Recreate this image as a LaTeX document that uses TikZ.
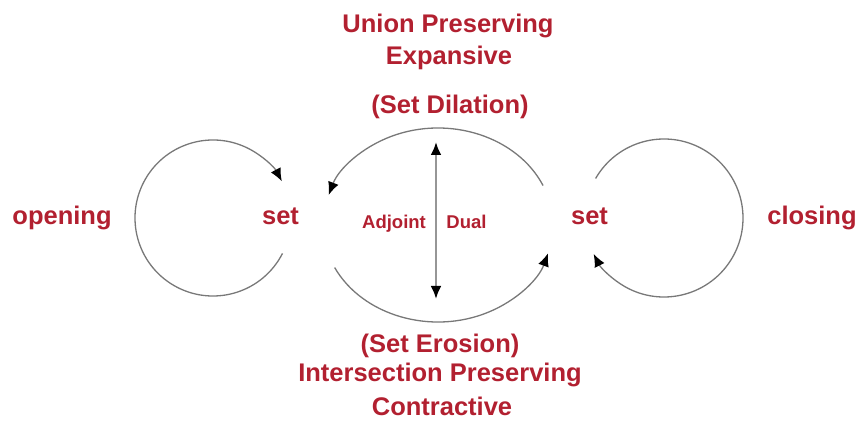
\documentclass[tikz,border=0pt]{standalone}
\usepackage{fontspec}
\setmainfont{Liberation Sans}
\usetikzlibrary{arrows.meta}
\definecolor{lblred}{RGB}{178,32,48}
\definecolor{arcgray}{RGB}{120,120,120}
\definecolor{axgray}{RGB}{150,150,150}
\tikzset{
  x=1pt, y=1pt,
  big/.style={text=lblred, font=\fontsize{25.5}{30}\selectfont\bfseries, inner sep=0pt, anchor=base},
  small/.style={text=lblred, font=\fontsize{18.5}{22}\selectfont\bfseries, inner sep=0pt, anchor=base},
  tipblk/.style={Latex[length=13pt,width=11pt,color=black]},
  arcline/.style={draw=arcgray, line width=1.3pt, -{Latex[length=13pt,width=11pt,color=black]}},
  axline/.style={draw=axgray, line width=2.4pt, {Latex[length=13pt,width=11pt,color=black]}-{Latex[length=13pt,width=11pt,color=black]}}
}
\begin{document}
\begin{tikzpicture}
\useasboundingbox (0,0) rectangle (860,426);
% labels
\node[big] (up1) at (448,393) {Union Preserving};
\node[big] (up2) at (449,361) {Expansive};
\node[big] (dil) at (450,312) {(Set Dilation)};
\node[big] (ero) at (440,73) {(Set Erosion)};
\node[big] (ip1) at (440,44) {Intersection Preserving};
\node[big] (ip2) at (442,11) {Contractive};
\node[big] (open) at (62,201) {opening};
\node[big] (setL) at (280.5,201) {set};
\node[big] (setR) at (589.5,201) {set};
\node[big] (close) at (812,201) {closing};
\node[small] (adj) at (394,197) {Adjoint};
\node[small] (dual) at (466.5,197) {Dual};
% centres of the arcs
\coordinate (cL) at (213,208);
\coordinate (cR) at (664,208);
\coordinate (cM) at (438,201);
% opening loop
\draw[arcline] ([shift={(-27:78)}]cL) arc[start angle=-27, end angle=-332, radius=78];
% closing loop
\draw[arcline] ([shift={(150:79)}]cR) arc[start angle=150, end angle=-153, radius=79];
% dilation (upper) and erosion (lower)
\draw[arcline] ([shift={(24:115 and 97)}]cM) arc[start angle=24, end angle=162, x radius=115, y radius=97];
\draw[arcline] ([shift={(206:115 and 97)}]cM) arc[start angle=206, end angle=343, x radius=115, y radius=97];
% adjoint / dual axis
\coordinate (axT) at (436,284);
\coordinate (axB) at (436,127);
\draw[axline] (axB) -- (axT);
\end{tikzpicture}
\end{document}
